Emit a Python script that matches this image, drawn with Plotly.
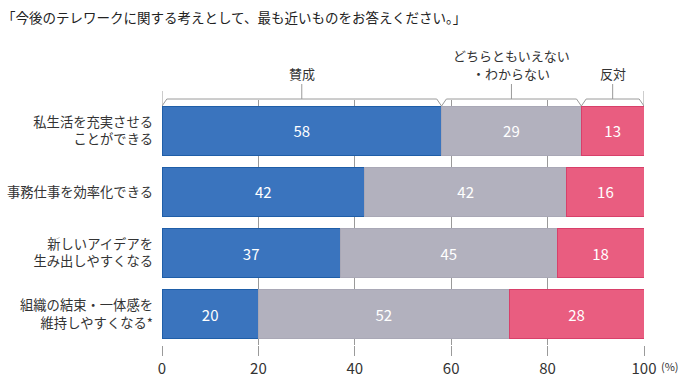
import plotly.graph_objects as go

categories = ["私生活を充実させる<br>ことができる", "事務仕事を効率化できる",
              "新しいアイデアを<br>生み出しやすくなる", "組織の結束・一体感を<br>維持しやすくなる*"]
series_names = ["賛成", "どちらともいえない・わからない", "反対"]
agree = [58, 42, 37, 20]
neutral = [29, 42, 45, 52]
disagree = [13, 16, 18, 28]
bracket_labels = [["賛成"], ["どちらともいえない", "・わからない"], ["反対"]]
x_ticks = [0, 20, 40, 60, 80, 100]
title_text = "「今後のテレワークに関する考えとして、最も近いものをお答えください。」"

colors = ["#3a74be", "#b2b1be", "#e95d80"]
line_colors = ["#1f5ea8", "#a9a8b6", "#d8406a"]
FONT = "Noto Sans CJK JP"

fig = go.Figure()
for name, vals, c, lc in zip(series_names, [agree, neutral, disagree], colors, line_colors):
    fig.add_trace(go.Bar(
        y=categories, x=vals, orientation="h", name=name,
        marker=dict(color=c, line=dict(color=lc, width=1)),
        text=[str(v) for v in vals], textposition="inside", insidetextanchor="middle",
        textfont=dict(color="white", size=15, family=FONT),
        hoverinfo="skip",
    ))

W, H = 690, 388
top, bottom = 100, 345
ph = bottom - top


def py(p):
    return (bottom - p) / ph


bar_top = py(106)
br_y = py(99)
stem_top = py(84)
edge_top = py(91)

# bracket computed from first-row cumulative values
cum = [0]
for v in [agree[0], neutral[0], disagree[0]]:
    cum.append(cum[-1] + v)
d = 1.0
path = f"M {cum[0]},{bar_top} L {cum[0]+d},{br_y}"
for b in cum[1:-1]:
    path += f" L {b-d},{br_y} L {b},{bar_top} L {b+d},{br_y}"
path += f" L {cum[-1]-d},{br_y} L {cum[-1]},{bar_top}"
gc = "#9a9a9a"
shapes = [dict(type="path", path=path, xref="x", yref="paper", line=dict(color=gc, width=1))]
for xe in [cum[0], cum[-1]]:
    shapes.append(dict(type="line", xref="x", yref="paper", x0=xe, x1=xe, y0=bar_top, y1=edge_top,
                       line=dict(color=gc, width=1)))
annotations = []
for i, lines in enumerate(bracket_labels):
    mid = (cum[i] + cum[i + 1]) / 2
    shapes.append(dict(type="line", xref="x", yref="paper", x0=mid, x1=mid, y0=br_y, y1=stem_top,
                       line=dict(color=gc, width=1)))
    n = len(lines)
    for j, lab in enumerate(lines):
        ypix = 73 - (n - 1 - j) * 18
        annotations.append(dict(x=mid, y=py(ypix), xref="x", yref="paper", text=lab, showarrow=False,
                                yanchor="middle", xanchor="center",
                                font=dict(size=13, color="#333", family=FONT)))

annotations.append(dict(x=100, y=py(366), xref="x", yref="paper", text="(%)", showarrow=False,
                        xanchor="left", yanchor="middle", xshift=15,
                        font=dict(size=11, color="#333", family=FONT)))

fig.update_layout(
    width=W, height=H,
    margin=dict(l=162, r=W - 644, t=top, b=H - bottom, autoexpand=False),
    barmode="stack", bargap=0.2, showlegend=False,
    plot_bgcolor="white", paper_bgcolor="white",
    title=dict(text=title_text, x=2 / W, xanchor="left", xref="container",
               y=1 - 18 / H, yanchor="middle", yref="container",
               font=dict(size=13.5, color="#222", family=FONT)),
    xaxis=dict(range=[0, 100], tickvals=x_ticks, ticktext=[str(t) for t in x_ticks],
               showgrid=True, gridcolor=gc, gridwidth=1, zeroline=False, automargin=False,
               ticks="outside", ticklen=10, tickcolor=gc, showline=False,
               tickfont=dict(size=15, color="#333", family=FONT)),
    yaxis=dict(autorange="reversed", showgrid=False, ticks="", ticklabelstandoff=8, automargin=False,
               tickfont=dict(size=13.3, color="#333", family=FONT)),
    shapes=shapes, annotations=annotations,
    font=dict(family=FONT),
)

fig.write_html("out.html", config={"displayModeBar": False},
               post_script="document.body.style.margin='0';document.body.style.padding='0';")
